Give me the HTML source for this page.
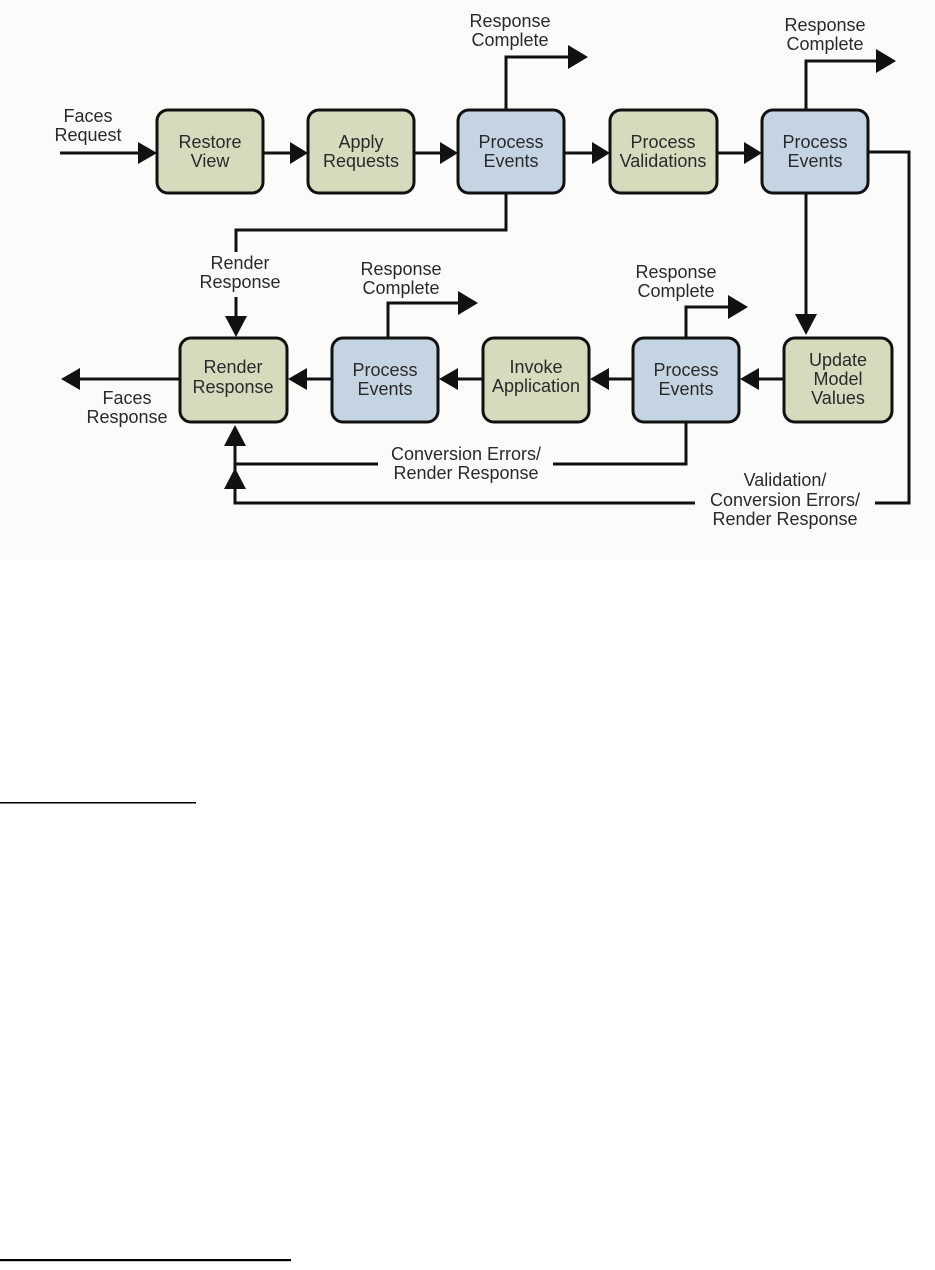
<!DOCTYPE html>
<html><head><meta charset="utf-8"><style>
html,body{margin:0;padding:0;background:#fff;}
body{width:935px;height:1270px;position:relative;overflow:hidden;}
svg text{font-family:"Liberation Sans",Arial,sans-serif;font-size:18px;fill:#2a2a2a;text-anchor:middle;}
</style></head><body>
<svg width="935" height="1270" viewBox="0 0 935 1270" xmlns="http://www.w3.org/2000/svg" style="position:absolute;left:0;top:0">
<rect x="0" y="0" width="935" height="560" fill="#fbfbfa"/>
<g stroke="#111" stroke-width="3" fill="none">
<line x1="60" y1="153" x2="140" y2="153"/>
<line x1="263" y1="153" x2="292" y2="153"/>
<line x1="414" y1="153" x2="442" y2="153"/>
<line x1="564" y1="153" x2="594" y2="153"/>
<line x1="717" y1="153" x2="746" y2="153"/>
<polyline points="506,110 506,57 570,57"/>
<polyline points="806,110 806,61 878,61"/>
<polyline points="868,152 909,152 909,503 875,503"/>
<polyline points="695,503 235,503 235,488"/>
<line x1="806" y1="193" x2="806" y2="316"/>
<polyline points="506,193 506,230 236,230 236,252"/>
<line x1="236" y1="297" x2="236" y2="318"/>
<line x1="784" y1="379" x2="757" y2="379"/>
<line x1="633" y1="379" x2="607" y2="379"/>
<line x1="483" y1="379" x2="456" y2="379"/>
<line x1="332" y1="379" x2="305" y2="379"/>
<line x1="180" y1="379" x2="78" y2="379"/>
<polyline points="388,337 388,303 460,303"/>
<polyline points="686,337 686,307 730,307"/>
<polyline points="686,422 686,464 553,464"/>
<polyline points="378,464 235,464 235,445"/>
<line x1="235" y1="464" x2="235" y2="488"/>
</g>
<g fill="#111">
<polygon points="138,142 157,153 138,164"/>
<polygon points="290,142 308,153 290,164"/>
<polygon points="440,142 458,153 440,164"/>
<polygon points="592,142 610,153 592,164"/>
<polygon points="744,142 762,153 744,164"/>
<polygon points="568,45 588,57 568,69"/>
<polygon points="876,49 896,61 876,73"/>
<polygon points="795,314 817,314 806,335"/>
<polygon points="225,316 247,316 236,337"/>
<polygon points="759,368 740,379 759,390"/>
<polygon points="609,368 590,379 609,390"/>
<polygon points="458,368 439,379 458,390"/>
<polygon points="307,368 288,379 307,390"/>
<polygon points="80,368 61,379 80,390"/>
<polygon points="458,291 478,303 458,315"/>
<polygon points="728,295 748,307 728,319"/>
<polygon points="224,446 246,446 235,425"/>
<polygon points="224,489 246,489 235,468"/>
</g>
<g stroke="#111" stroke-width="3">
<rect x="157" y="110" width="106" height="83" rx="11" fill="#d5dbbd"/>
<rect x="308" y="110" width="106" height="83" rx="11" fill="#d5dbbd"/>
<rect x="458" y="110" width="106" height="83" rx="11" fill="#c5d4e3"/>
<rect x="610" y="110" width="107" height="83" rx="11" fill="#d5dbbd"/>
<rect x="762" y="110" width="106" height="83" rx="11" fill="#c5d4e3"/>
<rect x="180" y="338" width="107" height="84" rx="11" fill="#d5dbbd"/>
<rect x="332" y="338" width="106" height="84" rx="11" fill="#c5d4e3"/>
<rect x="483" y="338" width="106" height="84" rx="11" fill="#d5dbbd"/>
<rect x="633" y="338" width="106" height="84" rx="11" fill="#c5d4e3"/>
<rect x="784" y="338" width="108" height="84" rx="11" fill="#d5dbbd"/>
</g>
<text x="210" y="148">Restore</text><text x="210" y="167">View</text>
<text x="361" y="148">Apply</text><text x="361" y="167">Requests</text>
<text x="511" y="148">Process</text><text x="511" y="167">Events</text>
<text x="663" y="148">Process</text><text x="663" y="167">Validations</text>
<text x="815" y="148">Process</text><text x="815" y="167">Events</text>
<text x="233" y="373">Render</text><text x="233" y="393">Response</text>
<text x="385" y="376">Process</text><text x="385" y="395">Events</text>
<text x="536" y="373">Invoke</text><text x="536" y="392">Application</text>
<text x="686" y="376">Process</text><text x="686" y="395">Events</text>
<text x="838" y="366">Update</text><text x="838" y="385">Model</text><text x="838" y="404">Values</text>
<text x="88" y="122">Faces</text><text x="88" y="141">Request</text>
<text x="510" y="27">Response</text><text x="510" y="46">Complete</text>
<text x="825" y="31">Response</text><text x="825" y="50">Complete</text>
<text x="240" y="269">Render</text><text x="240" y="288">Response</text>
<text x="401" y="275">Response</text><text x="401" y="294">Complete</text>
<text x="676" y="278">Response</text><text x="676" y="297">Complete</text>
<text x="127" y="404">Faces</text><text x="127" y="423">Response</text>
<text x="466" y="460">Conversion Errors/</text><text x="466" y="479">Render Response</text>
<text x="785" y="486">Validation/</text><text x="785" y="506">Conversion Errors/</text><text x="785" y="525">Render Response</text>
<rect x="0" y="802" width="196" height="1.5" fill="#000"/>
<rect x="0" y="1259" width="291" height="2.2" fill="#000"/>
</svg>
</body></html>
